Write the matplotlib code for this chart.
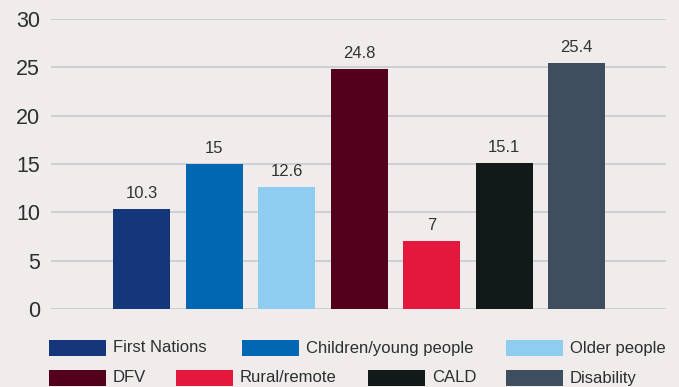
import matplotlib.pyplot as plt
from matplotlib.patches import Rectangle
from matplotlib import font_manager

# datos del grafico
categorias = ['First Nations', 'Children/young people', 'Older people',
              'DFV', 'Rural/remote', 'CALD', 'Disability']
valores = [10.3, 15, 12.6, 24.8, 7, 15.1, 25.4]
etiquetas = ['10.3', '15', '12.6', '24.8', '7', '15.1', '25.4']
colores = ['#14367a', '#0068b3', '#8ecdef', '#52001b', '#e4173c', '#111a19', '#3e4e5e']
yticks = [0, 5, 10, 15, 20, 25, 30]

fondo = '#efeceb'

# fuente tipo Arial si existe
nombres = {f.name for f in font_manager.fontManager.ttflist}
fuente = 'Liberation Sans' if 'Liberation Sans' in nombres else 'DejaVu Sans'

fig = plt.figure(figsize=(6.79, 3.87), dpi=100, facecolor=fondo)
ax = fig.add_axes([51 / 679, 1 - 309 / 387, (666 - 51) / 679, (309 - 19) / 387])
ax.set_facecolor(fondo)

x = list(range(len(categorias)))
barras = ax.bar(x, valores, width=0.79, color=colores, zorder=3)

# valores encima de cada barra
for xi, v, txt in zip(x, valores, etiquetas):
    ax.annotate(txt, (xi, v), xytext=(0, 6), textcoords='offset points',
                ha='center', va='bottom', fontsize=12, color='#333333',
                family=fuente)

ax.set_xlim(-1.25, 7.23)
ax.set_ylim(0, 30)
ax.set_yticks(yticks)
ax.set_xticks([])
ax.grid(axis='y', color='#c8cacb', linewidth=1.2, zorder=0)
ax.tick_params(axis='y', length=0, pad=8, labelsize=15.5, labelcolor='#2b2f2f')
for lab in ax.get_yticklabels():
    lab.set_family(fuente)
for s in ax.spines.values():
    s.set_visible(False)

# leyenda manual en dos filas
pos_leyenda = [(49, 340), (242, 340), (506, 340),
               (49, 370), (176, 370), (368, 370), (506, 370)]
for (px, py), nombre, c in zip(pos_leyenda, categorias, colores):
    fig.patches.append(Rectangle((px / 679, 1 - (py + 15.7) / 387), 57 / 679, 15.7 / 387,
                                 transform=fig.transFigure, facecolor=c, edgecolor='none'))
    fig.text((px + 64) / 679, 1 - (py + 8) / 387, nombre, ha='left', va='center',
             fontsize=12, color='#2b2f2f', family=fuente)

fig.savefig('out.png', dpi=100, facecolor=fondo)
